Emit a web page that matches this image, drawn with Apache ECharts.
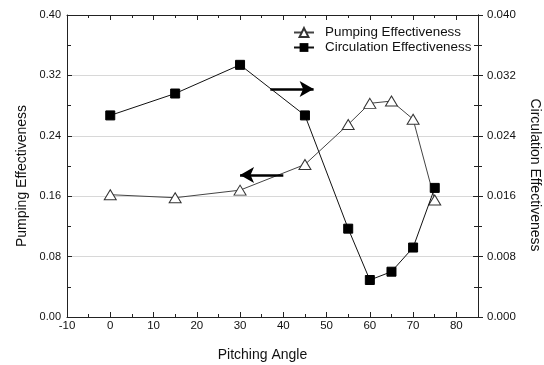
<!DOCTYPE html>
<html>
<head>
<meta charset="utf-8">
<script src="https://cdn.jsdelivr.net/npm/echarts@6/dist/echarts.min.js"></script>
<style>
  html, body { margin: 0; padding: 0; background: #fff; }
  #chart { width: 544px; height: 365px; }
</style>
</head>
<body>
<div id="chart"></div>
<script>
// Pitching angle (degrees)
const angles = [0, 15, 30, 45, 55, 60, 65, 70, 75];
// Pumping effectiveness (left axis)
const pumping = [0.162, 0.158, 0.168, 0.202, 0.255, 0.283, 0.286, 0.262, 0.155];
// Circulation effectiveness (right axis)
const circulation = [0.0267, 0.0296, 0.0334, 0.0267, 0.0117, 0.0049, 0.0060, 0.0092, 0.0171];
// Axis tick values
const xTicks = [-10, 0, 10, 20, 30, 40, 50, 60, 70, 80];
const leftTicks = [0.00, 0.08, 0.16, 0.24, 0.32, 0.40];
const rightTicks = [0.000, 0.008, 0.016, 0.024, 0.032, 0.040];
// Arrow annotations: [x, pumping-axis value] start and end
const arrowRight = [[37, 0.302], [47, 0.302]];
const arrowLeft = [[40, 0.188], [30, 0.188]];

const FONT = 'Liberation Sans';
const axisLine = { show: true, onZero: false, lineStyle: { color: '#222', width: 1 } };
const tickStyle = { color: '#222', width: 1 };

const chart = echarts.init(document.getElementById('chart'), null, { renderer: 'canvas' });

chart.setOption({
  animation: false,
  backgroundColor: '#fff',
  textStyle: { fontFamily: FONT },
  grid: { left: 67, right: 66, top: 15, bottom: 48, containLabel: false, outerBoundsMode: 'none' },
  legend: {
    orient: 'vertical',
    left: 288,
    top: 21,
    itemWidth: 20,
    itemHeight: 11,
    itemGap: 2,
    textStyle: { fontFamily: FONT, fontSize: 13.4, color: '#111', padding: [0, 0, 0, 6] },
    data: ['Pumping Effectiveness', 'Circulation Effectiveness']
  },
  xAxis: [
    {
      type: 'value', min: xTicks[0], max: 85, interval: 10,
      name: 'Pitching Angle', nameLocation: 'middle', nameGap: 31,
      nameTextStyle: { fontFamily: FONT, fontSize: 14, color: '#111', padding: [0, 20, 0, 0] },
      axisLine,
      axisTick: { inside: true, length: 5, lineStyle: tickStyle },
      minorTick: { show: true, splitNumber: 2, length: 3, lineStyle: tickStyle },
      axisLabel: {
        fontFamily: FONT, fontSize: 11.5, color: '#111', margin: 3,
        customValues: xTicks, formatter: v => String(v)
      },
      splitLine: { show: false }
    },
    {
      type: 'value', position: 'top', min: xTicks[0], max: 85, interval: 10,
      axisLine,
      axisTick: { inside: true, length: 5, lineStyle: tickStyle },
      minorTick: { show: true, splitNumber: 2, length: 3, lineStyle: tickStyle },
      axisLabel: { show: false },
      splitLine: { show: false }
    }
  ],
  yAxis: [
    {
      type: 'value', min: 0, max: 0.4, interval: 0.08,
      name: 'Pumping Effectiveness', nameLocation: 'middle', nameGap: 38,
      nameTextStyle: { fontFamily: FONT, fontSize: 14, color: '#111', padding: [0, 20, 0, 0] },
      axisLine,
      axisTick: { inside: true, length: 5, lineStyle: tickStyle },
      minorTick: { show: true, splitNumber: 2, length: 4, lineStyle: tickStyle },
      axisLabel: {
        fontFamily: FONT, fontSize: 11, color: '#111', margin: 6,
        customValues: leftTicks, formatter: v => v.toFixed(2)
      },
      splitLine: { show: true, lineStyle: { color: '#d8d8d8', width: 1 } }
    },
    {
      type: 'value', position: 'right', min: 0, max: 0.04, interval: 0.008,
      name: 'Circulation Effectiveness', nameLocation: 'middle', nameGap: 50,
      nameRotate: -90,
      nameTextStyle: { fontFamily: FONT, fontSize: 14, color: '#111', padding: [0, 0, 0, 18] },
      axisLine,
      axisTick: { inside: false, length: 5, lineStyle: tickStyle },
      minorTick: { show: true, splitNumber: 2, length: 4, lineStyle: tickStyle },
      axisLabel: {
        fontFamily: FONT, fontSize: 11.5, color: '#111', margin: 9,
        customValues: rightTicks, formatter: v => v.toFixed(3)
      },
      splitLine: { show: false }
    },
    {
      // inner half of the right-side crossing ticks
      type: 'value', position: 'right', min: 0, max: 0.04, interval: 0.008,
      axisLine,
      axisTick: { inside: true, length: 5, lineStyle: tickStyle },
      minorTick: { show: true, splitNumber: 2, length: 4, lineStyle: tickStyle },
      axisLabel: { show: false },
      splitLine: { show: false }
    }
  ],
  series: [
    {
      name: 'Pumping Effectiveness',
      type: 'line',
      xAxisIndex: 0, yAxisIndex: 0,
      data: angles.map((a, i) => [a, pumping[i]]),
      symbol: 'triangle',
      symbolSize: [12, 10],
      lineStyle: { color: '#444', width: 1 },
      itemStyle: { color: '#fff', borderColor: '#333', borderWidth: 1 },
      z: 3,
      markLine: {
        silent: true,
        symbol: ['none', 'arrow'],
        symbolSize: [12, 14],
        label: { show: false },
        lineStyle: { color: '#000', width: 2.5, type: 'solid' },
        data: [
          [{ coord: arrowRight[0] }, { coord: arrowRight[1] }],
          [{ coord: arrowLeft[0] }, { coord: arrowLeft[1] }]
        ]
      }
    },
    {
      name: 'Circulation Effectiveness',
      type: 'line',
      xAxisIndex: 0, yAxisIndex: 1,
      data: angles.map((a, i) => [a, circulation[i]]),
      symbol: 'rect',
      symbolSize: 9,
      lineStyle: { color: '#111', width: 1 },
      itemStyle: { color: '#000', borderColor: '#000' },
      z: 4
    }
  ]
});
</script>
</body>
</html>
